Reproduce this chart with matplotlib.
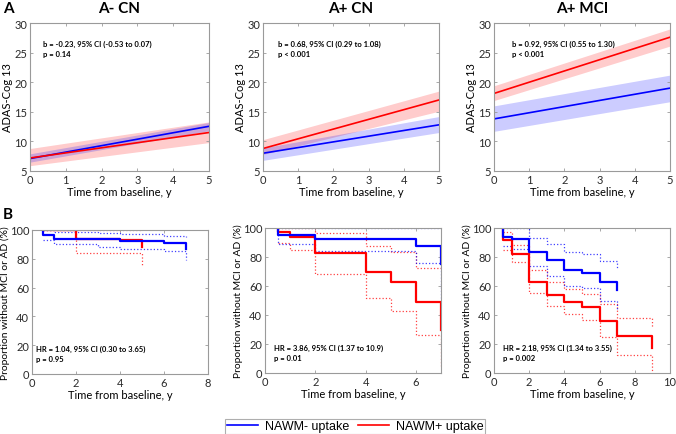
import matplotlib
matplotlib.use("Agg")
import matplotlib.pyplot as plt
from matplotlib.lines import Line2D

plt.rcParams['font.family'] = ['Lato', 'DejaVu Sans']

# ---- panel A: ADAS-Cog 13 trajectories (value at t=0 and t=5) ----
top_titles = ["A- CN", "A+ CN", "A+ MCI"]
top_t = [0, 5]
blue_line = [[7.1, 12.55], [8.0, 12.8], [13.8, 19.0]]
blue_lo = [[6.5, 11.8], [6.8, 11.5], [11.7, 16.7]]
blue_hi = [[7.9, 13.2], [8.9, 14.2], [16.0, 21.2]]
red_line = [[7.2, 11.5], [8.8, 17.0], [18.1, 27.6]]
red_lo = [[5.9, 9.8], [7.8, 15.1], [16.9, 26.1]]
red_hi = [[8.8, 13.3], [10.3, 18.5], [19.4, 29.0]]
top_text = ["b = -0.23, 95% CI (-0.53 to 0.07)\np = 0.14",
            "b = 0.68, 95% CI (0.29 to 1.08)\np < 0.001",
            "b = 0.92, 95% CI (0.55 to 1.30)\np < 0.001"]

# ---- panel B: Kaplan-Meier curves (step times, values in %) ----
# A- CN
km1_t_blue = [0.5, 0.5, 1, 4, 6, 7]
km1_blue = [100, 96.5, 94, 92.4, 90.8, 87]
km1_t_blue_ci = [0.5, 1, 3, 4, 6, 7]
km1_blue_hi = [100, 98.5, 98, 97, 95.6, 95]
km1_blue_lo = [93, 90, 88.5, 87, 85.5, 79]
km1_t_red = [0.5, 2, 4, 5]
km1_red = [100, 93.5, 92.8, 88.5]
km1_red_hi = [100, 100, 100, 100]
km1_red_lo = [100, 84, 84, 75]

# A+ CN
km2_t_blue = [0.5, 0.5, 2, 6, 7]
km2_blue = [100, 95.2, 92.2, 87.6, 75]
km2_blue_hi = [100, 100, 100, 100, 100]
km2_blue_lo = [100, 89, 84, 75.6, 51]
km2_t_red = [0.5, 0.5, 1, 2, 4, 5, 6, 7]
km2_red = [100, 97, 93.5, 82.5, 69.5, 63, 49, 30]
km2_t_red_ci = [0.5, 1, 2, 4, 5, 6, 7]
km2_red_hi = [100, 100, 96.5, 87.5, 83.5, 72.5, 72]
km2_red_lo = [90, 84.5, 68.5, 51.5, 43, 26, 5]

# A+ MCI
km3_t_blue = [0.5, 0.5, 1, 2, 3, 4, 5, 6, 7]
km3_blue = [100, 93.5, 92.2, 83.5, 77.8, 71.3, 68.8, 62.8, 57]
km3_t_blue_ci = [0.5, 1, 2, 3, 4, 5, 6, 7]
km3_blue_hi = [100, 100, 93.3, 88.7, 83.6, 81.8, 77, 71.7]
km3_blue_lo = [87.5, 85.5, 74, 67, 60, 58.5, 50, 43.5]
km3_t_red = [0.5, 0.5, 1, 2, 3, 4, 5, 6, 7, 9]
km3_red = [100, 91.5, 82, 62.8, 53.8, 49.2, 45.4, 35.7, 25.3, 17]
km3_t_red_ci = [0.5, 1, 2, 3, 4, 5, 6, 7, 9]
km3_red_hi = [97, 88, 70.7, 62.7, 58, 54.6, 47.5, 37.8, 32]
km3_red_lo = [85, 76.5, 55, 46, 40.8, 36.6, 24.7, 12.4, 0]

bottom_text = ["HR = 1.04, 95% CI (0.30 to 3.65)\np = 0.95",
               "HR = 3.86, 95% CI (1.37 to 10.9)\np = 0.01",
               "HR = 2.18, 95% CI (1.34 to 3.55)\np = 0.002"]


def style_axes(ax):
    for sp in ax.spines.values():
        sp.set_color('#9a9a9a')
        sp.set_linewidth(0.8)
    ax.tick_params(direction='in', top=True, right=True, length=2.5,
                   width=0.6, color='#9a9a9a', labelsize=8,
                   labelcolor='#2a2a2a', pad=2)


fig = plt.figure(figsize=(6.76, 4.35), dpi=100)
W, H = 676.0, 435.0

top_lefts = [30, 263, 494]
top_widths = [179, 176, 176]
for i in range(3):
    ax = fig.add_axes([top_lefts[i] / W, (H - 172) / H,
                       top_widths[i] / W, 148 / H])
    ax.fill_between(top_t, red_lo[i], red_hi[i], color='red', alpha=0.2,
                    linewidth=0)
    ax.fill_between(top_t, blue_lo[i], blue_hi[i], color='blue', alpha=0.2,
                    linewidth=0)
    ax.plot(top_t, blue_line[i], color='blue', lw=1.2)
    ax.plot(top_t, red_line[i], color='red', lw=1.2)
    ax.set_xlim(0, 5)
    ax.set_ylim(5, 30)
    ax.set_xticks(range(0, 6))
    ax.set_yticks(range(5, 31, 5))
    ax.set_xlabel("Time from baseline, y", fontsize=8, labelpad=1)
    ax.set_ylabel("ADAS-Cog 13", fontsize=8)
    ax.yaxis.set_label_coords(-17 / top_widths[i], 0.5)
    ax.set_title(top_titles[i], fontsize=11, fontweight='bold', pad=8)
    tx = [0.073, 0.085, 0.10][i]
    ax.text(tx, 0.89, top_text[i], transform=ax.transAxes, fontsize=5.5,
            fontweight='bold', va='top', linespacing=1.5)
    style_axes(ax)

km_data = [
    (km1_t_blue, km1_blue, km1_t_blue_ci, km1_blue_hi, km1_blue_lo,
     km1_t_red, km1_red, km1_t_red, km1_red_hi, km1_red_lo, 8, range(0, 9, 2)),
    (km2_t_blue, km2_blue, km2_t_blue, km2_blue_hi, km2_blue_lo,
     km2_t_red, km2_red, km2_t_red_ci, km2_red_hi, km2_red_lo, 7, range(0, 7, 2)),
    (km3_t_blue, km3_blue, km3_t_blue_ci, km3_blue_hi, km3_blue_lo,
     km3_t_red, km3_red, km3_t_red_ci, km3_red_hi, km3_red_lo, 10, range(0, 11, 2)),
]
bot_lefts = [32, 265, 494]
bot_tops = [231, 229, 229]
bot_heights = [144, 145, 145]
for i, d in enumerate(km_data):
    (tb, vb, tbc, bhi, blo, tr, vr, trc, rhi, rlo, xmax, xt) = d
    ax = fig.add_axes([bot_lefts[i] / W, (H - bot_tops[i] - bot_heights[i]) / H,
                       176 / W, bot_heights[i] / H])
    ax.step(trc, rhi, where='post', color='red', lw=0.9, ls=':', alpha=0.75)
    ax.step(trc, rlo, where='post', color='red', lw=0.9, ls=':', alpha=0.75)
    ax.step(tbc, bhi, where='post', color='blue', lw=0.9, ls=':', alpha=0.75)
    ax.step(tbc, blo, where='post', color='blue', lw=0.9, ls=':', alpha=0.75)
    ax.step(tr, vr, where='post', color='red', lw=1.6)
    ax.step(tb, vb, where='post', color='blue', lw=1.6)
    ax.set_xlim(0, xmax)
    ax.set_ylim(0, 100)
    ax.set_xticks(list(xt))
    ax.set_yticks(range(0, 101, 20))
    ax.set_xlabel("Time from baseline, y", fontsize=8, labelpad=1)
    ax.set_ylabel("Proportion without MCI or AD (%)", fontsize=7.4)
    ax.yaxis.set_label_coords(-22 / 176, 0.5)
    tx = [0.025, 0.05, 0.05][i]
    ax.text(tx, 0.2, bottom_text[i], transform=ax.transAxes, fontsize=5.5,
            fontweight='bold', va='top', linespacing=1.5)
    style_axes(ax)

fig.text(3 / W, 1 - 13 / H, "A", fontsize=11, fontweight='bold')
fig.text(3 / W, 1 - 219 / H, "B", fontsize=11, fontweight='bold')

handles = [Line2D([], [], color='blue', lw=1.2),
           Line2D([], [], color='red', lw=1.2)]
leg = fig.legend(handles, ["NAWM- uptake", "NAWM+ uptake"], loc='center',
                 bbox_to_anchor=(355 / W, 1 - 427.5 / H), ncol=2,
                 prop={'family': 'Liberation Sans', 'size': 9},
                 fancybox=False, edgecolor='#9a9a9a', handlelength=2.5,
                 borderpad=0.1, columnspacing=0.7, handletextpad=0.55,
                 borderaxespad=0)
leg.get_frame().set_linewidth(0.8)

fig.savefig("out.png", dpi=100)
